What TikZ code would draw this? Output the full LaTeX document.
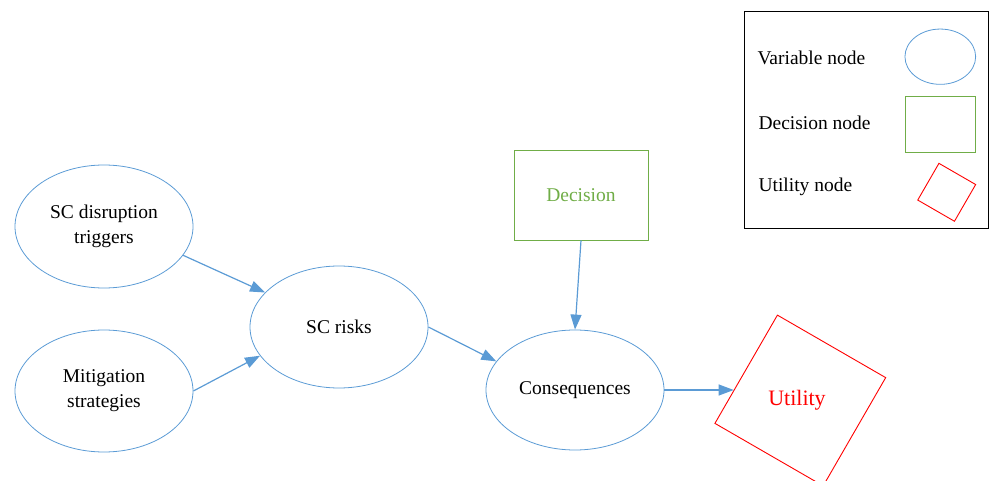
\documentclass[tikz,border=0pt]{standalone}
\usepackage{fontspec}
\setmainfont{Liberation Serif}
\usetikzlibrary{shapes.geometric,arrows.meta,calc}
\definecolor{vblue}{HTML}{5B9BD5}
\definecolor{dgreen}{HTML}{70AD47}
\begin{document}
\begin{tikzpicture}[x=1pt,y=-1pt,
  txt/.style={font=\fontsize{19.5}{25}\selectfont},
  varnode/.style={ellipse,draw=vblue,line width=0.8pt,inner sep=0pt,align=center,txt},
  decnode/.style={rectangle,draw=dgreen,line width=0.8pt,inner sep=0pt,text=dgreen,txt},
  utilnode/.style={rectangle,draw=red,line width=0.9pt,inner sep=0pt,rotate=-30},
  conn/.style={draw=vblue,line width=1.2pt,-{Triangle[length=15pt,width=11pt]}},
  legtext/.style={anchor=west,txt}]
\useasboundingbox (0,0) rectangle (989,481);
% main nodes
\node[varnode,minimum width=178pt,minimum height=123pt] (trig) at (104,226.5) {SC disruption\\triggers};
\node[varnode,minimum width=178pt,minimum height=122pt] (mit) at (104,391) {Mitigation\\strategies};
\node[varnode,minimum width=178pt,minimum height=122pt] (risk) at (339,327) {SC risks};
\node[varnode,minimum width=178pt,minimum height=120pt] (cons) at (575,390) {Consequences};
\node[decnode,minimum width=134pt,minimum height=90pt] (dec) at (581,195) {Decision};
\node[utilnode,minimum width=125pt,minimum height=125pt] (util) at (800.3,400.5) {};
\node[text=red,font=\fontsize{22}{26}\selectfont] (utext) at (797,400) {Utility};
\coordinate (utip) at ($(util.north west)!0.6925!(util.south west)$);
% connectors
\draw[conn] (trig.340) -- (risk.155);
\draw[conn] (mit.east) -- (risk.200);
\draw[conn] (risk.east) -- (cons.160);
\draw[conn] (dec.south) -- (cons.north);
\draw[conn] (cons.east) -- (cons.east -| utip);
% legend
\node[draw=black,line width=0.8pt,minimum width=244.5pt,minimum height=217pt,inner sep=0pt] (legend) at (866.25,119.5) {};
\node[legtext] (lv) at (754,58) {Variable node};
\node[legtext] (ld) at (755,123) {Decision node};
\node[legtext] (lu) at (755,187) {Utility node};
\node[ellipse,draw=vblue,line width=0.8pt,minimum width=70.7pt,minimum height=55.3pt,inner sep=0pt] (lve) at (940.3,56.7) {};
\node[rectangle,draw=dgreen,line width=0.8pt,minimum width=70.7pt,minimum height=56pt,inner sep=0pt] (ldr) at (940.3,124) {};
\node[utilnode,minimum width=42.4pt,minimum height=42.4pt] (lur) at (946.7,192.3) {};
\end{tikzpicture}
\end{document}
